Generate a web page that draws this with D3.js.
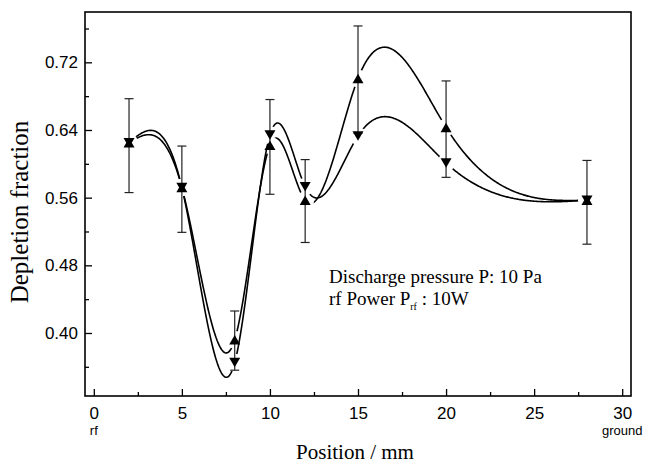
<!DOCTYPE html>
<html><head><meta charset="utf-8">
<script src="https://cdn.jsdelivr.net/npm/d3@7"></script>
<style>body{margin:0;background:#fff}svg{display:block}</style>
</head><body>
<svg id="chart" width="647" height="463"></svg>
<script>
// ---- data ----
const positions = [2, 5, 8, 10, 12, 15, 20, 28];
const upSeries   = [0.625, 0.572, 0.392, 0.622, 0.557, 0.701, 0.643, 0.557]; // ▲
const downSeries = [0.625, 0.572, 0.365, 0.634, 0.573, 0.633, 0.601, 0.557]; // ▼
const errTop     = [0.677, 0.621, 0.426, 0.676, 0.605, 0.763, 0.698, 0.604];
const errBottom  = [0.566, 0.519, 0.356, 0.564, 0.507, 0.636, 0.584, 0.505];
const xMajorTicks = [0, 5, 10, 15, 20, 25, 30];
const xMinorTicks = [2.5, 7.5, 12.5, 17.5, 22.5, 27.5];
const yMajorTicks = [0.40, 0.48, 0.56, 0.64, 0.72];
const yMinorTicks = [0.36, 0.44, 0.52, 0.60, 0.68, 0.76];
const xEndLabels = [{v: 0, t: "rf"}, {v: 30, t: "ground"}];

const svg = d3.select("#chart");
const L = 85, R = 631, T = 12, B = 396;
const x = d3.scaleLinear().domain([-0.5, 30.5]).range([L, R]);
const y = d3.scaleLinear().domain([0.3255, 0.7795]).range([B, T]);

// natural cubic spline y(x)
function spline(xs, ys) {
  const n = xs.length, h = [], M = new Array(n).fill(0);
  for (let i = 0; i < n - 1; i++) h.push(xs[i + 1] - xs[i]);
  const a = [], b = [], c = [], d = [];
  for (let i = 1; i < n - 1; i++) {
    a.push(h[i - 1]); b.push(2 * (h[i - 1] + h[i])); c.push(h[i]);
    d.push(6 * ((ys[i + 1] - ys[i]) / h[i] - (ys[i] - ys[i - 1]) / h[i - 1]));
  }
  const m = b.length;
  for (let i = 1; i < m; i++) { const w = a[i] / b[i - 1]; b[i] -= w * c[i - 1]; d[i] -= w * d[i - 1]; }
  const sol = new Array(m);
  sol[m - 1] = d[m - 1] / b[m - 1];
  for (let i = m - 2; i >= 0; i--) sol[i] = (d[i] - c[i] * sol[i + 1]) / b[i];
  for (let i = 0; i < m; i++) M[i + 1] = sol[i];
  return function (t) {
    let i = 0; while (i < n - 2 && t > xs[i + 1]) i++;
    const hi = h[i], A = xs[i + 1] - t, Bv = t - xs[i];
    return M[i] * A * A * A / (6 * hi) + M[i + 1] * Bv * Bv * Bv / (6 * hi)
      + (ys[i] / hi - M[i] * hi / 6) * A + (ys[i + 1] / hi - M[i + 1] * hi / 6) * Bv;
  };
}

const defs = svg.append("defs");
const line = d3.line().x(d => x(d[0])).y(d => y(d[1]));
const series = [{id: "up", vals: upSeries}, {id: "down", vals: downSeries}];
series.forEach(s => {
  const mask = defs.append("mask").attr("id", "m-" + s.id).attr("maskUnits", "userSpaceOnUse")
    .attr("x", 0).attr("y", 0).attr("width", 647).attr("height", 463);
  mask.append("rect").attr("width", 647).attr("height", 463).attr("fill", "#fff");
  positions.forEach((p, i) => mask.append("circle").attr("cx", x(p)).attr("cy", y(s.vals[i])).attr("r", 9).attr("fill", "#000"));
  const f = spline(positions, s.vals);
  const pts = d3.range(positions[0], positions[positions.length - 1] + 0.0001, 0.05).map(t => [t, f(t)]);
  svg.append("path").attr("d", line(pts)).attr("fill", "none").attr("stroke", "#000")
    .attr("stroke-width", 1.6).attr("mask", "url(#m-" + s.id + ")");
});

// error bars
const cap = 4.5;
const eg = svg.append("g").attr("stroke", "#222").attr("stroke-width", 1.2);
positions.forEach((p, i) => {
  const cx = x(p);
  eg.append("line").attr("x1", cx).attr("x2", cx).attr("y1", y(errTop[i])).attr("y2", y(errBottom[i]));
  eg.append("line").attr("x1", cx - cap).attr("x2", cx + cap).attr("y1", y(errTop[i])).attr("y2", y(errTop[i]));
  eg.append("line").attr("x1", cx - cap).attr("x2", cx + cap).attr("y1", y(errBottom[i])).attr("y2", y(errBottom[i]));
});

// markers
const w = 11, hh = 9.5;
const triUp = `M0,${-hh/2}L${w/2},${hh/2}L${-w/2},${hh/2}Z`;
const triDown = `M0,${hh/2}L${w/2},${-hh/2}L${-w/2},${-hh/2}Z`;
positions.forEach((p, i) => {
  svg.append("path").attr("d", triUp).attr("transform", `translate(${x(p)},${y(upSeries[i])})`).attr("fill", "#000");
  svg.append("path").attr("d", triDown).attr("transform", `translate(${x(p)},${y(downSeries[i])})`).attr("fill", "#000");
});

// axes
const tickFont = "'Liberation Sans', Arial, sans-serif";
const xAx = svg.append("g").attr("transform", `translate(0,${B})`)
  .call(d3.axisBottom(x).tickValues(xMajorTicks).tickSize(-7).tickPadding(11).tickFormat(d3.format("d")));
const xAxMinor = svg.append("g").attr("transform", `translate(0,${B})`)
  .call(d3.axisBottom(x).tickValues(xMinorTicks).tickSize(-4).tickFormat(""));
const yAx = svg.append("g").attr("transform", `translate(${L},0)`)
  .call(d3.axisLeft(y).tickValues(yMajorTicks).tickSize(-7).tickPadding(7).tickFormat(d3.format(".2f")));
const yAxMinor = svg.append("g").attr("transform", `translate(${L},0)`)
  .call(d3.axisLeft(y).tickValues(yMinorTicks).tickSize(-4).tickFormat(""));
[xAx, xAxMinor, yAx, yAxMinor].forEach(g => {
  g.select(".domain").remove();
  g.selectAll(".tick line").attr("stroke", "#000").attr("stroke-width", 1.3);
  g.selectAll("text").attr("font-family", tickFont).attr("font-size", 17).attr("fill", "#000");
});

// frame
svg.append("rect").attr("x", L).attr("y", T).attr("width", R - L).attr("height", B - T)
  .attr("fill", "none").attr("stroke", "#000").attr("stroke-width", 1.6);

// end labels
svg.selectAll(".endlab").data(xEndLabels).enter().append("text")
  .attr("x", d => x(d.v)).attr("y", 435).attr("text-anchor", "middle")
  .attr("font-family", tickFont).attr("font-size", 13).text(d => d.t);

// axis titles
const serif = "'Liberation Serif', 'Times New Roman', serif";
svg.append("text").attr("x", (L + R) / 2 - 3).attr("y", 459).attr("text-anchor", "middle")
  .attr("font-family", serif).attr("font-size", 21).text("Position / mm");
svg.append("text").attr("transform", "translate(28,212) rotate(-90)").attr("text-anchor", "middle")
  .attr("font-family", serif).attr("font-size", 25).text("Depletion fraction");

// annotation
const ann = svg.append("text").attr("font-family", serif).attr("font-size", 19);
ann.append("tspan").attr("x", 329).attr("y", 283).text("Discharge pressure P: 10 Pa");
const l2 = svg.append("text").attr("font-family", serif).attr("font-size", 19).attr("x", 329).attr("y", 305);
l2.append("tspan").text("rf Power P");
l2.append("tspan").attr("font-size", 10).attr("dy", 5).text("rf");
l2.append("tspan").attr("dy", -5).text(" : 10W");
</script>
</body></html>
